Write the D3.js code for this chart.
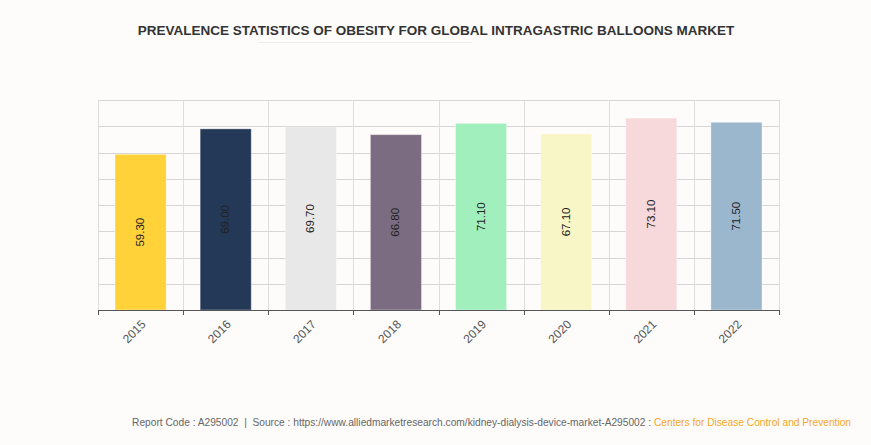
<!DOCTYPE html>
<html><head><meta charset="utf-8">
<script src="https://cdn.jsdelivr.net/npm/d3@7"></script>
<style>body{margin:0;background:#fdfcfb;}svg{display:block;font-family:"Liberation Sans",Arial,sans-serif;}</style>
</head><body><svg id="c" width="871" height="445"></svg>
<script>
const categories = ["2015","2016","2017","2018","2019","2020","2021","2022"];
const values = [59.3, 69.0, 69.7, 66.8, 71.1, 67.1, 73.1, 71.5];
const colors = ["#ffd23a","#243858","#e8e8e8","#7c6c81","#a2efbe","#f8f6c6","#f7d8db","#9bb7ce"];
const yTicks = [0,10,20,30,40,50,60,70,80];
const title = "PREVALENCE STATISTICS OF OBESITY FOR GLOBAL INTRAGASTRIC BALLOONS MARKET";

const svg = d3.select("#c");
svg.append("rect").attr("width",871).attr("height",445).attr("fill","#fdfcfb");
const L=98,R=779,T=100,B=310;
const x = d3.scaleBand().domain(categories).range([L,R]).paddingInner(0.4).paddingOuter(0.2);
const y = d3.scaleLinear().domain([0,80]).range([B,T]);

svg.append("text").attr("x",436).attr("y",35).attr("text-anchor","middle")
  .attr("font-size",13.5).attr("font-weight","bold").attr("fill","#333").text(title);
svg.append("line").attr("x1",258).attr("x2",472).attr("y1",42.5).attr("y2",42.5).attr("stroke","#eeeeee");

// horizontal grid
svg.append("g").selectAll("line").data(yTicks).join("line")
  .attr("x1",L).attr("x2",R).attr("y1",d=>Math.round(y(d))+0.5).attr("y2",d=>Math.round(y(d))+0.5)
  .attr("stroke","#d6d6d6");
// vertical grid at band boundaries
const bounds = d3.range(categories.length+1).map(i=>L+i*(R-L)/categories.length);
svg.append("g").selectAll("line").data(bounds).join("line")
  .attr("x1",d=>Math.round(d)+0.5).attr("x2",d=>Math.round(d)+0.5).attr("y1",T).attr("y2",B)
  .attr("stroke","#dddddd");

// bars
svg.append("g").selectAll("rect").data(values).join("rect")
  .attr("x",(d,i)=>x(categories[i])).attr("width",x.bandwidth())
  .attr("y",d=>y(d)).attr("height",d=>B-y(d))
  .attr("fill",(d,i)=>colors[i]).attr("stroke","rgba(255,255,255,0.35)").attr("stroke-width",1);

// value labels
svg.append("g").selectAll("text").data(values).join("text")
  .attr("transform",(d,i)=>`translate(${x(categories[i])+x.bandwidth()/2+3.5},${(y(d)+B)/2}) rotate(-90)`)
  .attr("text-anchor","middle").attr("font-size",11.5).attr("fill","#222")
  .text(d=>d.toFixed(2));

// axis line and ticks
svg.append("line").attr("x1",L).attr("x2",R).attr("y1",B+0.5).attr("y2",B+0.5).attr("stroke","#555");
svg.append("g").selectAll("line").data(bounds).join("line")
  .attr("x1",d=>Math.round(d)+0.5).attr("x2",d=>Math.round(d)+0.5).attr("y1",B).attr("y2",B+5)
  .attr("stroke","#555");

// x labels
svg.append("g").selectAll("text").data(categories).join("text")
  .attr("transform",d=>`translate(${x(d)+x.bandwidth()/2+6},${B+15}) rotate(-45)`)
  .attr("text-anchor","end").attr("font-size",12).attr("fill","#555").text(d=>d);

// footer
const f = svg.append("text").attr("x",851).attr("y",426).attr("text-anchor","end")
  .attr("font-size",10.2).style("white-space","pre").attr("font-family","'Liberation Sans',Arial,sans-serif");
f.append("tspan").attr("fill","#666").text("Report Code : A295002  |  Source : https://www.alliedmarketresearch.com/kidney-dialysis-device-market-A295002 : ");
f.append("tspan").attr("fill","#f5a623").text("Centers for Disease Control and Prevention");
</script></body></html>
